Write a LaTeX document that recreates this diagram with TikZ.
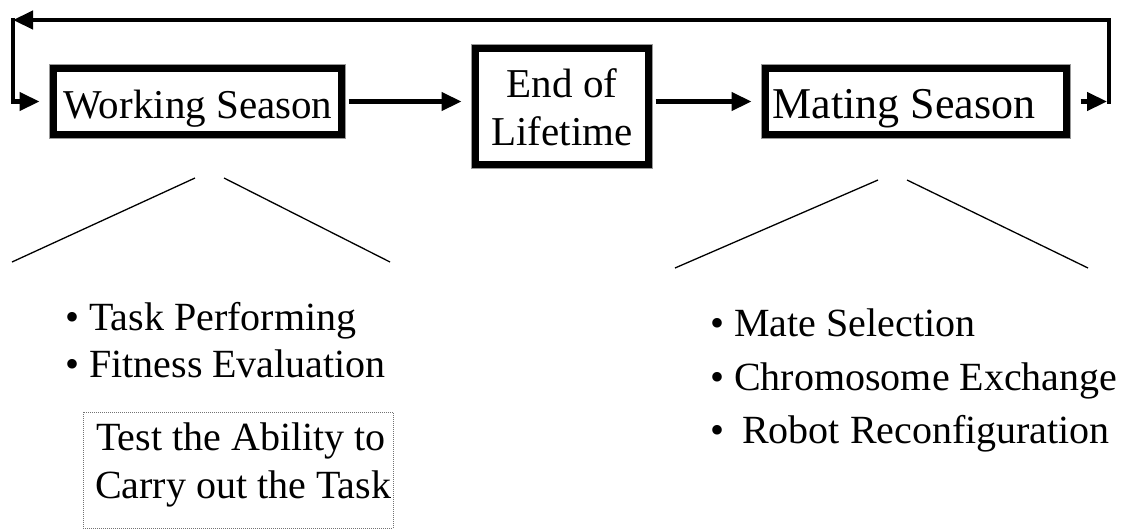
\documentclass[tikz,border=0pt]{standalone}
\usepackage{fontspec}
\setmainfont{Liberation Serif}
\usetikzlibrary{arrows.meta}
\begin{document}
\begin{tikzpicture}[x=1pt,y=-1pt,
  stage/.style={draw=black, line width=7pt, preaction={draw=black!40, line width=9pt}, fill=white, inner sep=0pt},
  lbl/.style={inner sep=0pt, anchor=base, font=\fontsize{41}{48}\selectfont},
  item/.style={inner sep=0pt, anchor=base west, font=\fontsize{40}{48}\selectfont},
  flow/.style={line width=4.5pt, line join=miter, -{Triangle[length=20pt,width=18pt]}},
  branch/.style={line width=1.3pt},
  note/.style={draw=black!55, densely dotted, line width=1pt, inner sep=0pt}]
\useasboundingbox (0,0) rectangle (1128,531);

% stage boxes
\node[stage, minimum width=288pt, minimum height=66pt]  (work) at (197.5,101.5) {};
\node[stage, minimum width=173pt, minimum height=116pt] (life) at (562,106.5) {};
\node[stage, minimum width=301pt, minimum height=66pt]  (mate) at (916,101.5) {};

\node[lbl] (workT) at (198,118) {Working Season};
\node[lbl] (lifeA) at (562,97) {End of};
\node[lbl] (lifeB) at (562,145) {Lifetime};
\node[lbl, font=\fontsize{44}{52}\selectfont] (mateT) at (904,118) {Mating Season};

% forward flow
\draw[flow, shorten <=3.5pt, shorten >=10.5pt] (work.east) -- (work.east -| life.west);
\draw[flow, shorten <=3.5pt, shorten >=10.5pt] (mate.west -| life.east) -- (mate.west);

% return loop
\coordinate (ret)  at (1109,101.5);
\coordinate (rtop) at (1109,20);
\coordinate (ltop) at (13,20);
\coordinate (lbot) at (13,101.5);
\draw[flow, shorten <=10.5pt, shorten >=2pt] (mate.east) -- (ret);
\draw[flow] ([yshift=-2.25pt]ret) -- (rtop) -- (ltop);
\draw[flow, shorten >=10.5pt] ([yshift=2.25pt]ltop) -- (lbot) -- (work.west);

% branches under the working season
\coordinate (wa) at (195,178);
\coordinate (wb) at (224,178);
\coordinate (wl) at (12,262);
\coordinate (wr) at (390,262);
\draw[branch] (wa) -- (wl);
\draw[branch] (wb) -- (wr);

% branches under the mating season
\coordinate (ma) at (878,180);
\coordinate (mb) at (907,180);
\coordinate (ml) at (675,268);
\coordinate (mr) at (1088,268);
\draw[branch] (ma) -- (ml);
\draw[branch] (mb) -- (mr);

% working season activities
\node[item] (task) at (65,330) {• Task Performing};
\node[item] (fit)  at (65,377) {• Fitness Evaluation};
\node[note, minimum width=310pt, minimum height=116pt] (ability) at (238,470) {};
\node[item] (abA) at (96,450) {Test the Ability to};
\node[item] (abB) at (95,498) {Carry out the Task};

% mating season activities
\node[item] (sel)  at (710,336) {• Mate Selection};
\node[item] (chr)  at (710,390) {• Chromosome Exchange};
\node[item] (rob)  at (710,443) {•\hspace{8pt} Robot Reconfiguration};
\end{tikzpicture}
\end{document}
